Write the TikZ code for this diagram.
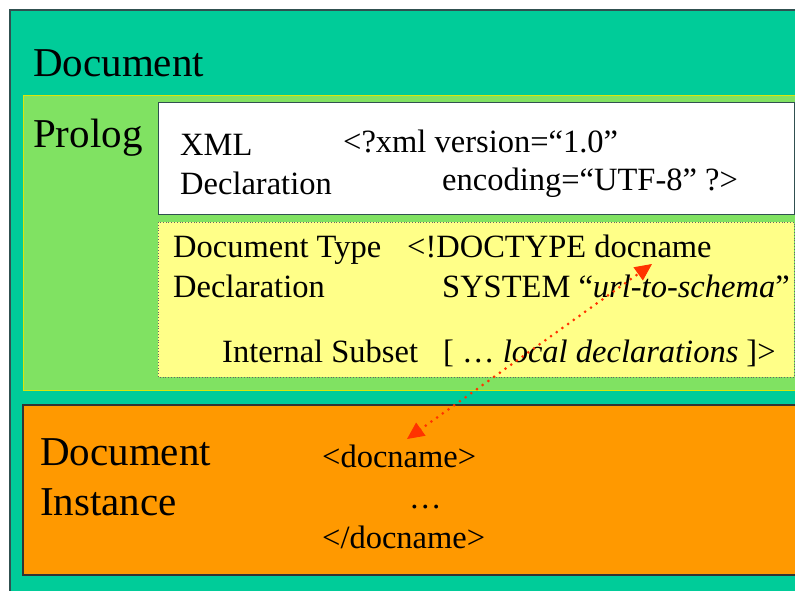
\documentclass[tikz,border=0pt]{standalone}
\usepackage{fontspec}
\setmainfont{Liberation Serif}
\usetikzlibrary{arrows.meta,calc}
\definecolor{teal0}{HTML}{00CC99}
\definecolor{prolgreen}{HTML}{80E262}
\definecolor{paleyellow}{HTML}{FFFF88}
\definecolor{orange0}{HTML}{FF9900}
\definecolor{arrowred}{HTML}{FF3300}
\definecolor{bordergray}{HTML}{305050}
\tikzset{
  big/.style={anchor=base west, inner sep=0pt, font=\fontsize{41}{48}\selectfont},
  txt/.style={anchor=base west, inner sep=0pt, font=\fontsize{32.5}{38}\selectfont},
  link/.style={arrowred, line width=3pt, dash pattern=on 0pt off 7pt, line cap=round},
  linktip/.style={arrowred, line width=1pt, solid, -{Triangle[length=17pt,width=16pt]}}
}
\begin{document}
\begin{tikzpicture}[x=1pt,y=-1pt]
\useasboundingbox (0,0) rectangle (795,590);
\clip (0,0) rectangle (795,590);
\fill[white] (0,0) rectangle (795,590);
% outer document
\draw[fill=teal0, draw=bordergray, line width=1.2pt] (10,10) rectangle (805,600);
% prolog area
\draw[fill=prolgreen, draw=yellow!85!green, line width=1pt] (23,95) rectangle (805,390);
% XML declaration box
\draw[fill=white, draw=bordergray, line width=1pt] (158,102) rectangle (794,214);
% doctype box
\draw[fill=paleyellow, draw=black!60, dotted, line width=0.8pt] (158,222) rectangle (794,377);
% document instance
\draw[fill=orange0, draw=black!80, line width=1.2pt] (23,405) rectangle (805,575);

\node[big] (tdoc) at (33,76) {Document};
\node[big] (tprolog) at (33,147) {Prolog};
\node[txt] (txml) at (180,155) {XML};
\node[txt] (txmldecl) at (180,194) {Declaration};
\node[txt] (txmlv) at (343,152) {<?xml version=“1.0”};
\node[txt] (txmle) at (442,190) {encoding=“UTF-8” ?>};
\node[txt] (tdt) at (173,257) {Document Type};
\node[txt] (tdtdecl) at (173,297) {Declaration};
\node[txt] (tdoctype) at (407,257) {<!DOCTYPE docname};
\node[txt] (tsystem) at (442,297) {SYSTEM “\textit{url-to-schema}”};
\node[txt] (tis) at (222,362) {Internal Subset};
\node[txt] (tlocal) at (443,362) {[ … \textit{local declarations} ]>};
\node[big] (tdi1) at (40,465) {Document};
\node[big] (tdi2) at (40,515) {Instance};
\node[txt] (topen) at (322,467) {<docname>};
\node[txt] (tdots) at (409,508) {…};
\node[txt] (tclose) at (322,548) {</docname>};

\coordinate (atop) at (652,264);
\coordinate (abot) at (407,439);
\draw[link] ($(abot)!16pt!(atop)$) -- ($(atop)!16pt!(abot)$);
\draw[linktip] ($(abot)!14pt!(atop)$) -- (abot);
\draw[linktip] ($(atop)!14pt!(abot)$) -- (atop);
\end{tikzpicture}
\end{document}
